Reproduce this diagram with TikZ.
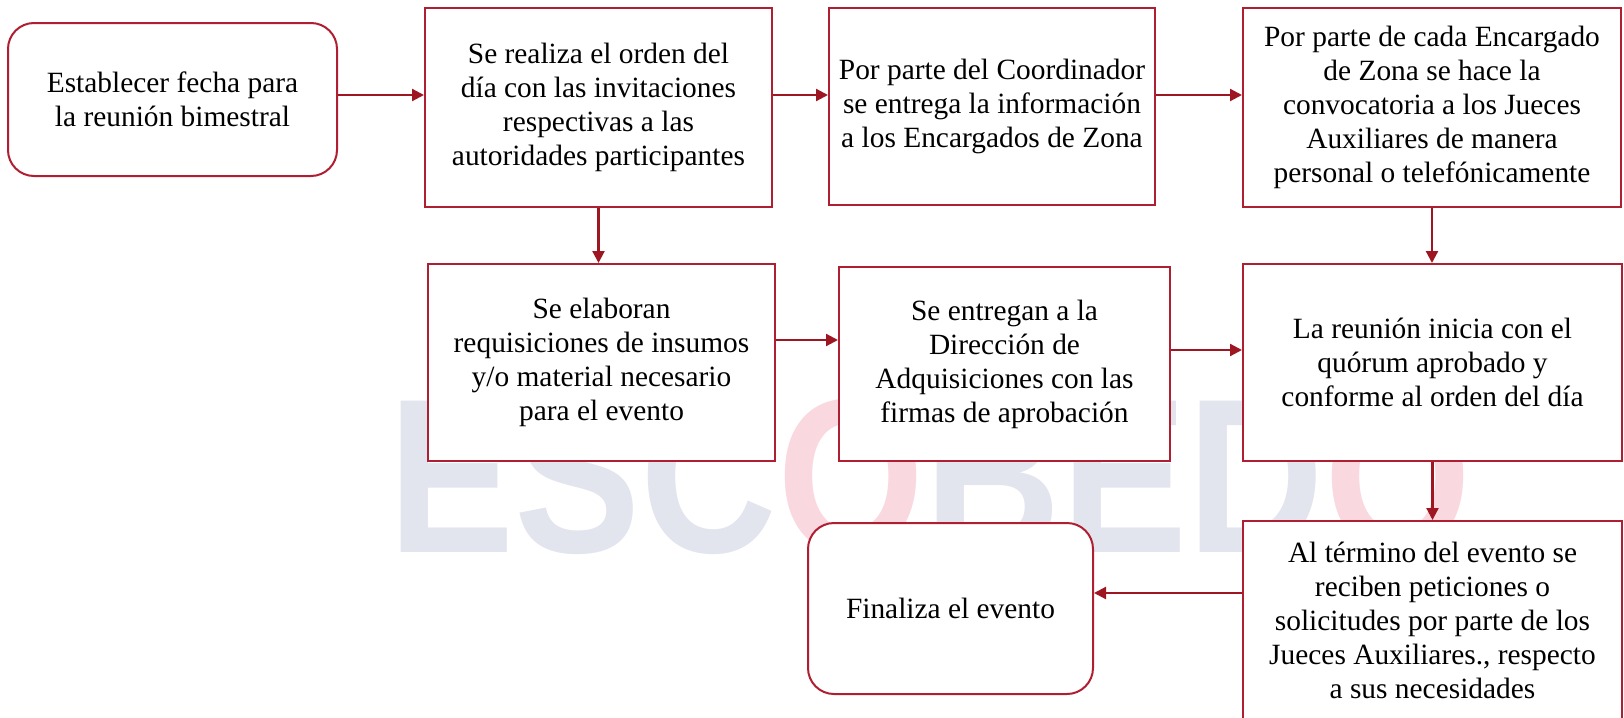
\documentclass[tikz,border=0pt]{standalone}
\usepackage{fontspec}
\setmainfont{Liberation Serif}
\setsansfont{Liberation Sans}
\usetikzlibrary{arrows.meta}

\definecolor{boxred}{RGB}{176,30,50}
\definecolor{arrred}{RGB}{158,22,34}
\definecolor{markgray}{RGB}{226,228,238}
\definecolor{markpink}{RGB}{249,216,224}

\tikzset{
  stepbox/.style={draw=boxred, line width=1pt, fill=white, align=center, inner sep=2pt,
    font=\fontsize{14.7}{17}\selectfont},
  endbox/.style={stepbox, rounded corners=13pt},
  flow/.style={draw=arrred, line width=1.1pt, -{Triangle[length=6pt,width=6pt]}},
}

\begin{document}
\begin{tikzpicture}[x=0.5pt, y=-0.5pt]

\useasboundingbox (0,0) rectangle (1624,718);

% watermark
\node[anchor=base, inner sep=0pt] (mark) at (930,552)
  {\scalebox{0.86}[1]{\fontsize{110}{110}\sffamily\bfseries\color{markgray}ESC\color{markpink}O\color{markgray}BED\color{markpink}O}};

% row 1
\node[endbox, minimum width=164.5pt, minimum height=76.5pt] (fecha) at (172.5,99.5)
  {Establecer fecha para\\la reunión bimestral};
\node[stepbox, minimum width=173.5pt, minimum height=99.5pt] (orden) at (598.5,107.5)
  {Se realiza el orden del\\día con las invitaciones\\respectivas a las\\autoridades participantes};
\node[stepbox, minimum width=163pt, minimum height=98.5pt] (coord) at (992,106)
  {Por parte del Coordinador\\se entrega la información\\a los Encargados de Zona};
\node[stepbox, minimum width=189pt, minimum height=99.5pt] (zona) at (1432,107.5)
  {Por parte de cada Encargado\\de Zona se hace la\\convocatoria a los Jueces\\Auxiliares de manera\\personal o telefónicamente};

% row 2
\node[stepbox, minimum width=173.5pt, minimum height=98.5pt] (requis) at (601.5,362.5)
  {Se elaboran\\requisiciones de insumos\\y/o material necesario\\para el evento};
\node[stepbox, minimum width=165.5pt, minimum height=97pt] (adquis) at (1004.5,364)
  {Se entregan a la\\Dirección de\\Adquisiciones con las\\firmas de aprobación};
\node[stepbox, minimum width=189.5pt, minimum height=98.5pt] (inicia) at (1432.5,362.5)
  {La reunión inicia con el\\quórum aprobado y\\conforme al orden del día};

% row 3
\node[endbox, minimum width=142.5pt, minimum height=85.5pt] (fin) at (950.5,608.5)
  {Finaliza el evento};
\node[stepbox, minimum width=189.5pt, minimum height=99pt] (termino) at (1432.5,620)
  {Al término del evento se\\reciben peticiones o\\solicitudes por parte de los\\Jueces Auxiliares., respecto\\a sus necesidades};

% arrow levels
\coordinate (r1) at (0,95);
\coordinate (r2) at (0,340);
\coordinate (r3) at (0,350);
\coordinate (r4) at (0,593);

\draw[flow] (fecha.east |- r1) -- (orden.west |- r1);
\draw[flow] (orden.east |- r1) -- (coord.west |- r1);
\draw[flow] (coord.east |- r1) -- (zona.west |- r1);
\draw[flow] (orden.south) -- (orden.south |- requis.north);
\draw[flow] (requis.east |- r2) -- (adquis.west |- r2);
\draw[flow] (adquis.east |- r3) -- (inicia.west |- r3);
\draw[flow] (zona.south) -- (zona.south |- inicia.north);
\draw[flow] (inicia.south) -- (inicia.south |- termino.north);
\draw[flow] (termino.west |- r4) -- (fin.east |- r4);

\end{tikzpicture}
\end{document}
